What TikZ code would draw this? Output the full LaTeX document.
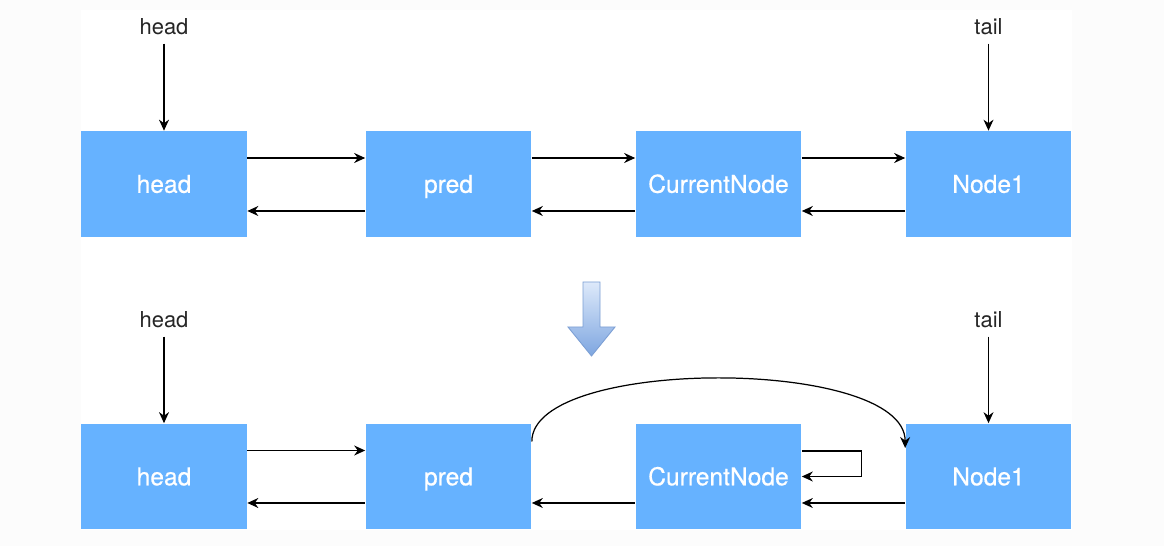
\documentclass[tikz,border=0pt]{standalone}
\usepackage{fontspec}
\setmainfont{TeX Gyre Heros}
\newfontfamily\boxfont[FakeBold=0.6]{TeX Gyre Heros}
\usetikzlibrary{arrows.meta}

\definecolor{boxblue}{HTML}{66B2FF}
\definecolor{arrtop}{HTML}{DDE9FA}
\definecolor{arrbot}{HTML}{7EA6E0}
\definecolor{arredge}{HTML}{7C9FD4}

\tikzset{
  listnode/.style={fill=boxblue,minimum width=3.32cm,minimum height=2.12cm,
    text=white,font=\boxfont\fontsize{14}{16}\selectfont,inner sep=0pt,
    text height=10pt,text depth=0pt},
  ptrlabel/.style={text=black!85,font=\fontsize{12.5}{14}\selectfont,inner sep=0pt},
  link/.style={-{Stealth[length=2.2mm,width=2mm]},line width=0.7pt}
}

\begin{document}
\begin{tikzpicture}[x=0.02cm,y=-0.02cm]
\useasboundingbox (0,0) rectangle (1164,546);
\fill[black!1] (0,0) rectangle (1164,546);
\fill[white] (81,10) rectangle (1072,530);

% before
\node[listnode] (h1) at (164,184) {head};
\node[listnode] (p1) at (448.5,184) {pred};
\node[listnode] (c1) at (718.5,184) {CurrentNode};
\node[listnode] (n1) at (988.5,184) {Node1};
\node[ptrlabel] (hl1) at (164,27) {head};
\node[ptrlabel] (tl1) at (988.5,27) {tail};
\draw[link] ([yshift=-0.16cm]hl1.south) -- (h1.north);
\draw[link] ([yshift=-0.16cm]tl1.south) -- (n1.north);
\foreach \a/\b in {h1/p1,p1/c1,c1/n1}{
  \draw[link] ([yshift=0.52cm]\a.east) -- ([yshift=0.52cm]\b.west);
  \draw[link] ([yshift=-0.54cm]\b.west) -- ([yshift=-0.54cm]\a.east);
}

% step arrow
\path[draw=arredge,line width=0.5pt,top color=arrtop,bottom color=arrbot]
  (583,282) -- (600,282) -- (600,327) -- (615,327) -- (591.5,356)
  -- (568,327) -- (583,327) -- cycle;

% after
\node[listnode] (h2) at (164,476.5) {head};
\node[listnode] (p2) at (448.5,476.5) {pred};
\node[listnode] (c2) at (718.5,476.5) {CurrentNode};
\node[listnode] (n2) at (988.5,476.5) {Node1};
\node[ptrlabel] (hl2) at (164,320) {head};
\node[ptrlabel] (tl2) at (988.5,320) {tail};
\draw[link] ([yshift=-0.16cm]hl2.south) -- (h2.north);
\draw[link] ([yshift=-0.16cm]tl2.south) -- (n2.north);
\draw[link] ([yshift=0.52cm]h2.east) -- ([yshift=0.52cm]p2.west);
\foreach \a/\b in {h2/p2,p2/c2,c2/n2}
  \draw[link] ([yshift=-0.53cm]\b.west) -- ([yshift=-0.53cm]\a.east);
\draw[link] ([yshift=0.7cm]p2.east) .. controls +(0,-85) and +(0,-91) .. ([yshift=0.57cm]n2.west);
\draw[link] ([yshift=0.51cm]c2.east) -- ++(60,0) |- (c2.east);
\end{tikzpicture}
\end{document}
